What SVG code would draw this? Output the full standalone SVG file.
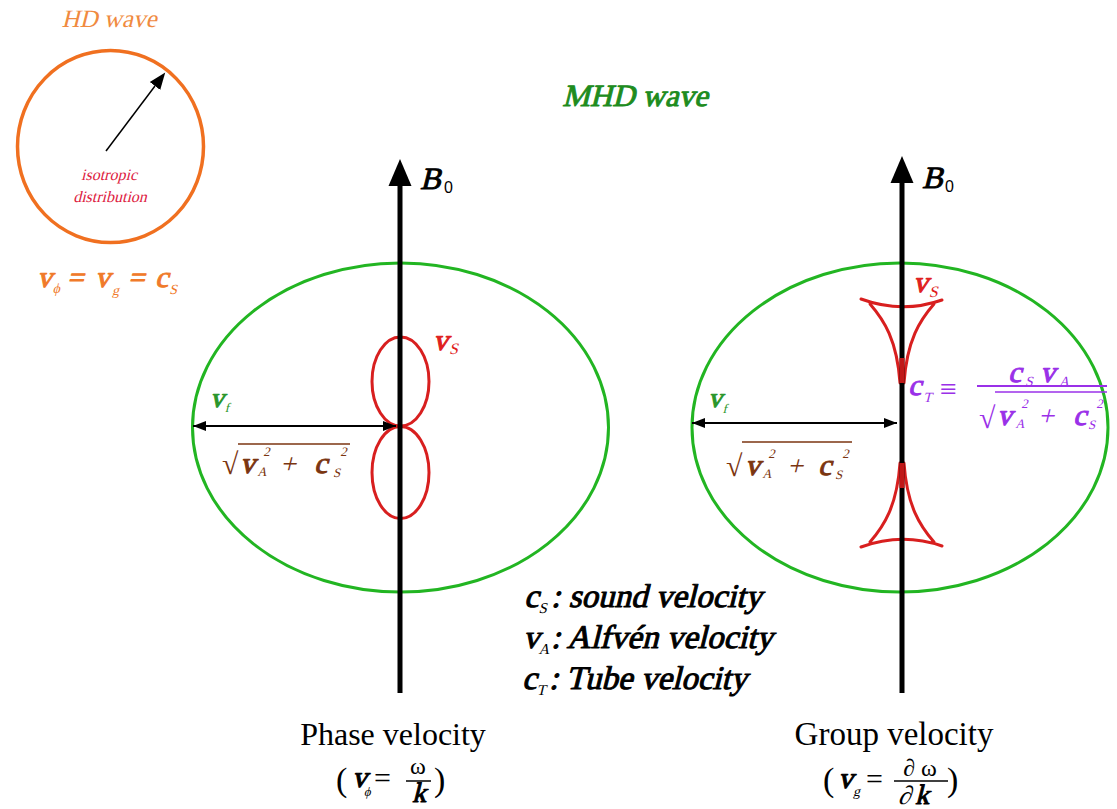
<svg xmlns="http://www.w3.org/2000/svg" width="1117" height="809" viewBox="0 0 1117 809">
<style>
text{font-family:"Liberation Serif",serif}
.b{stroke-width:1px;stroke-linejoin:round}
.sans{font-family:"Liberation Sans",Arial,sans-serif}
.axis{stroke:#000;stroke-width:5;fill:none}
.dim{stroke:#000;stroke-width:2;fill:none}
.ell{stroke:#22b522;stroke-width:3;fill:none}
.red{stroke:#d81f1f;stroke-width:3;fill:none}
.green{fill:#2a962a}
.brown{fill:#7b3510}
.purple{fill:#9a30e8}
.redt{fill:#e02020}
</style>
<defs>
<marker id="bhead" markerUnits="userSpaceOnUse" markerWidth="30" markerHeight="26" viewBox="0 -13 30 26" refX="0" refY="0" orient="auto">
<path d="M0,-11.5 L27,0 L0,11.5 z" fill="#000"/>
</marker>
<marker id="shead" markerUnits="userSpaceOnUse" markerWidth="14" markerHeight="12" viewBox="0 -6 14 12" refX="13" refY="0" orient="auto-start-reverse">
<path d="M0,-5 L13,0 L0,5 z" fill="#000"/>
</marker>
<marker id="hhead" markerUnits="userSpaceOnUse" markerWidth="20" markerHeight="16" viewBox="0 -8 20 16" refX="0" refY="0" orient="auto">
<path d="M0,-6.5 L17,0 L0,6.5 z" fill="#000"/>
</marker>
</defs>
<rect width="1117" height="809" fill="#fff"/>

<g id="hd-wave">
<text transform="translate(109,27) skewX(-14)" font-size="25" fill="#f08a40" text-anchor="middle">HD wave</text>
<ellipse cx="110.5" cy="146.5" rx="93" ry="96" fill="none" stroke="#f07020" stroke-width="3.5"/>
<line x1="106" y1="151" x2="155" y2="86" stroke="#000" stroke-width="1.5" marker-end="url(#hhead)"/>
<text transform="translate(109,180) skewX(-14)" font-size="16" fill="#dd2040" text-anchor="middle">isotropic</text>
<text transform="translate(110,202) skewX(-14)" font-size="16" fill="#dd2040" text-anchor="middle">distribution</text>
<g transform="translate(37,287) skewX(-14)" fill="#f07a2a">
<text x="0" y="0" font-size="30" class="b" stroke="#f07a2a">v</text>
<text x="17" y="6" font-size="14">ϕ</text>
<text x="30" y="0" font-size="29" class="b" stroke="#f07a2a">=</text>
<text x="58" y="0" font-size="30" class="b" stroke="#f07a2a">v</text>
<text x="77" y="8" font-size="14">g</text>
<text x="91" y="0" font-size="29" class="b" stroke="#f07a2a">=</text>
<text x="118" y="0" font-size="30" class="b" stroke="#f07a2a">c</text>
<text x="134" y="7" font-size="14">S</text>
</g>
</g>

<g id="title">
<text transform="translate(635,106) skewX(-14)" font-size="31" class="b" stroke="#1e8c1e" fill="#1e8c1e" text-anchor="middle">MHD wave</text>
</g>

<g id="phase-diagram">
<ellipse class="ell" cx="400.5" cy="427.5" rx="208" ry="164.5"/>
<ellipse class="red" cx="400.5" cy="381.5" rx="28.5" ry="44.5"/>
<ellipse class="red" cx="400.5" cy="472.5" rx="28.5" ry="46"/>
<g transform="translate(433,350) skewX(-14)" class="redt">
<text font-size="30" class="b" stroke="#e02020">v</text>
<text x="17" y="4" font-size="16">S</text>
</g>
<g transform="translate(210,407) skewX(-14)" class="green">
<text font-size="28" class="b" stroke="#2a962a">v</text>
<text x="16" y="5" font-size="13">f</text>
</g>
<text x="222" y="474" font-size="30" class="brown">√</text>
<line x1="238" y1="444" x2="350" y2="444" stroke="#7b3510" stroke-width="1.5"/>
<g transform="translate(240,473) skewX(-14)" class="brown">
<text font-size="30" class="b" stroke="#7b3510">v</text>
<text x="19" y="-17" font-size="13">2</text>
<text x="18" y="3" font-size="13">A</text>
<text x="40" y="0" font-size="28">+</text>
<text x="74" y="0" font-size="30" class="b" stroke="#7b3510">c</text>
<text x="96" y="-17" font-size="13">2</text>
<text x="94" y="4" font-size="13">S</text>
</g>
<text transform="translate(420,189) skewX(-14)" font-size="31" class="b" stroke="#000">B</text>
<text x="444" y="193" font-size="16" class="sans">0</text>
<text x="393" y="745" font-size="32" text-anchor="middle">Phase velocity</text>
<text x="336" y="791" font-size="34">(</text>
<g transform="translate(352,787) skewX(-14)">
<text font-size="30" class="b" stroke="#000">v</text>
<text x="14" y="9" font-size="13">ϕ</text>
</g>
<text x="374" y="788" font-size="30">=</text>
<text x="418" y="774" font-size="24" text-anchor="middle">ω</text>
<line x1="406" y1="781" x2="431" y2="781" stroke="#000" stroke-width="1.5"/>
<text transform="translate(419,802) skewX(-14)" font-size="28" class="b" stroke="#000" text-anchor="middle">k</text>
<text x="434" y="791" font-size="34">)</text>
</g>

<g id="group-diagram">
<ellipse class="ell" cx="900" cy="427.5" rx="208" ry="164.5"/>
<path class="red" stroke-linecap="round" d="M861,299 Q902,314 942,300 M870,304 C884,320 897,340 900,383 M934,304 C920,320 907,340 904,383"/>
<path class="red" stroke-linecap="round" d="M861,547 Q902,532 942,546 M870,542 C884,526 897,506 900,463 M934,542 C920,526 907,506 904,463"/>
<g transform="translate(913,292) skewX(-14)" class="redt">
<text font-size="30" class="b" stroke="#e02020">v</text>
<text x="17" y="5" font-size="16">S</text>
</g>
<g transform="translate(708,407) skewX(-14)" class="green">
<text font-size="28" class="b" stroke="#2a962a">v</text>
<text x="16" y="6" font-size="13">f</text>
</g>
<text x="726" y="476" font-size="30" class="brown">√</text>
<line x1="742" y1="442" x2="852" y2="442" stroke="#7b3510" stroke-width="1.5"/>
<g transform="translate(745,475) skewX(-14)" class="brown">
<text font-size="30" class="b" stroke="#7b3510">v</text>
<text x="19" y="-17" font-size="13">2</text>
<text x="18" y="3" font-size="13">A</text>
<text x="42" y="0" font-size="28">+</text>
<text x="73" y="0" font-size="30" class="b" stroke="#7b3510">c</text>
<text x="93" y="-17" font-size="13">2</text>
<text x="91" y="4" font-size="13">S</text>
</g>
<g transform="translate(908,395) skewX(-14)" class="purple">
<text font-size="30" class="b" stroke="#9a30e8">c</text>
<text x="17" y="7" font-size="14">T</text>
</g>
<text x="940" y="399" font-size="30" class="purple">≡</text>
<g transform="translate(1008,382) skewX(-14)" class="purple">
<text font-size="30" class="b" stroke="#9a30e8">c</text>
<text x="18" y="4" font-size="14">S</text>
<text x="32" y="0" font-size="30" class="b" stroke="#9a30e8">v</text>
<text x="52" y="4" font-size="14">A</text>
</g>
<line x1="977" y1="386" x2="1107" y2="386" stroke="#9a30e8" stroke-width="2"/>
<text x="979" y="428" font-size="30" class="purple">√</text>
<line x1="995" y1="392" x2="1107" y2="392" stroke="#9a30e8" stroke-width="1.5"/>
<g transform="translate(997,425) skewX(-14)" class="purple">
<text font-size="30" class="b" stroke="#9a30e8">v</text>
<text x="20" y="-17" font-size="13">2</text>
<text x="19" y="3" font-size="13">A</text>
<text x="41" y="0" font-size="28">+</text>
<text x="76" y="0" font-size="30" class="b" stroke="#9a30e8">c</text>
<text x="95" y="-17" font-size="13">2</text>
<text x="92" y="4" font-size="13">S</text>
</g>
<text transform="translate(922,188) skewX(-14)" font-size="31" class="b" stroke="#000">B</text>
<text x="945" y="192" font-size="16" class="sans">0</text>
<text x="894" y="745" font-size="33" text-anchor="middle">Group velocity</text>
<text x="823" y="791" font-size="34">(</text>
<g transform="translate(838,788) skewX(-14)">
<text font-size="30" class="b" stroke="#000">v</text>
<text x="17" y="8" font-size="14">g</text>
</g>
<text x="866" y="789" font-size="30">=</text>
<text x="920" y="776" font-size="24" text-anchor="middle">∂ ω</text>
<line x1="894" y1="781" x2="948" y2="781" stroke="#000" stroke-width="1.5"/>
<g transform="translate(918,804) skewX(-14)">
<text x="-20" y="0" font-size="26">∂</text>
<text x="-3" y="0" font-size="28" class="b" stroke="#000">k</text>
</g>
<text x="947" y="791" font-size="34">)</text>
</g>

<g id="legend">
<g transform="translate(524,607) skewX(-14)">
<text font-size="33" class="b" stroke="#000">c</text>
<text x="16" y="6" font-size="15">S</text>
<text x="27" y="0" font-size="33" class="b" stroke="#000">: sound velocity</text>
</g>
<g transform="translate(523,648) skewX(-14)">
<text font-size="33" class="b" stroke="#000">v</text>
<text x="17" y="6" font-size="15">A</text>
<text x="28" y="0" font-size="33" class="b" stroke="#000">: Alfvén velocity</text>
</g>
<g transform="translate(522,689) skewX(-14)">
<text font-size="33" class="b" stroke="#000">c</text>
<text x="16" y="6" font-size="15">T</text>
<text x="27" y="0" font-size="33" class="b" stroke="#000">: Tube velocity</text>
</g>
</g>

<g id="connectors">
<line class="axis" x1="400" y1="693" x2="400" y2="186" marker-end="url(#bhead)"/>
<line class="axis" x1="902" y1="693" x2="902" y2="183" marker-end="url(#bhead)"/>
<line x1="902" y1="358" x2="902" y2="383" stroke="#c01818" stroke-width="5"/>
<line x1="902" y1="463" x2="902" y2="488" stroke="#c01818" stroke-width="5"/>
<line class="dim" x1="193" y1="426" x2="396" y2="426" marker-start="url(#shead)" marker-end="url(#shead)"/>
<line class="dim" x1="692" y1="423" x2="897" y2="423" marker-start="url(#shead)" marker-end="url(#shead)"/>
</g>
</svg>
